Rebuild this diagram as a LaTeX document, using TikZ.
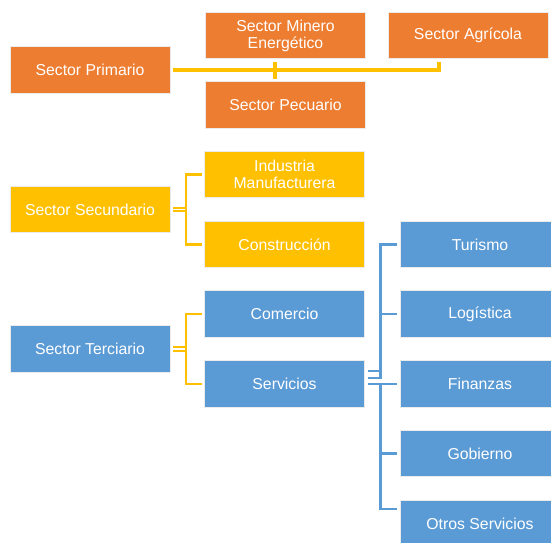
\documentclass[tikz,border=0pt]{standalone}
\usepackage{fontspec}
\setmainfont{Liberation Sans}
\definecolor{naranja}{HTML}{ED7D31}
\definecolor{amarillo}{HTML}{FFC000}
\definecolor{azul}{HTML}{5B9BD5}
\tikzset{
  caja/.style={draw=black!8, line width=0.8pt, text=white, minimum width=160pt,
    minimum height=46.5pt, inner sep=0pt, outer sep=3pt, align=center,
    font=\fontsize{15.8}{17}\selectfont},
  plink/.style={draw=amarillo, line width=3.2pt},
  ylink/.style={draw=amarillo, line width=2.5pt},
  blink/.style={draw=azul, line width=2.5pt},
  dlink/.style={double=white, line width=1.9pt, double distance=1.4pt}
}

\begin{document}
\begin{tikzpicture}[x=1pt,y=-1pt]
    \useasboundingbox (0,0) rectangle (551,542);
    \node[caja, fill=naranja] (prim) at (90,70) {Sector Primario};
    \node[caja, fill=naranja] (minero) at (285.5,35.5) {Sector Minero\\Energético};
    \node[caja, fill=naranja] (agri) at (468,35.5) {Sector Agrícola};
    \node[caja, fill=naranja] (pecu) at (285.5,105) {Sector Pecuario};
    %
    \node[caja, fill=amarillo] (sec) at (90,209.5) {Sector Secundario};
    \node[caja, fill=amarillo] (indus) at (284.5,174.5) {Industria\\Manufacturera};
    \node[caja, fill=amarillo] (constr) at (284.5,244.5) {Construcción};
    %
    \node[caja, fill=azul] (ter) at (90,349) {Sector Terciario};
    \node[caja, fill=azul] (comer) at (284.5,314) {Comercio};
    \node[caja, fill=azul] (servi) at (284.5,384) {Servicios};
    \node[caja, fill=azul] (turismo) at (480,244.5) {Turismo};
    \node[caja, fill=azul] (logistica) at (480,314) {Logística};
    \node[caja, fill=azul] (finanzas) at (480,384) {Finanzas};
    \node[caja, fill=azul] (gobierno) at (480,453.5) {Gobierno};
    \node[caja, fill=azul] (otros) at (480,524) {Otros Servicios};
    %
    \coordinate (pj) at (275,70);
    \coordinate (aj) at (439,70);
    \coordinate (sj) at (186,209.5);
    \coordinate (tj) at (186,349);
    \coordinate (su) at (380.5,374);
    \coordinate (sb) at (380.5,378.5);
    \coordinate (ot) at (397,509);
    %
    \draw[plink] (prim.east) -- (aj) -- (aj |- agri.south);
    \draw[plink] (pj |- minero.south) -- (pj |- pecu.north);
    %
    \draw[ylink, dlink] (sec.east) -- (sj);
    \draw[ylink] (indus.west) -| (sj) |- (constr.west);
    \draw[ylink, dlink] (ter.east) -- (tj);
    \draw[ylink] (comer.west) -| (tj) |- (servi.west);
    %
    \draw[blink, double=white, double distance=5pt, line width=2pt] (servi.east |- su) -- (su);
    \draw[blink] (turismo.west) -| (sb);
    \draw[blink] (logistica.west) -- (logistica.west -| su);
    \draw[blink] (servi.east) -- (finanzas.west);
    \draw[blink] (finanzas.west -| su) |- (ot);
    \draw[blink] (gobierno.west) -- (gobierno.west -| su);
\end{tikzpicture}
\end{document}
